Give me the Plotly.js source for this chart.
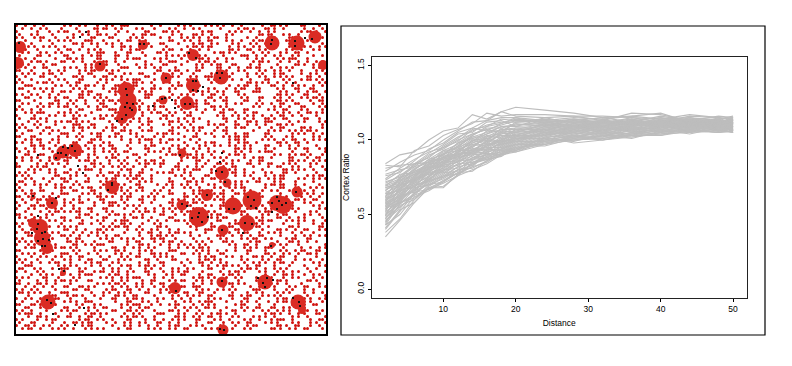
<!DOCTYPE html>
<html><head><meta charset="utf-8">
<script src="https://cdn.plot.ly/plotly-3.0.1.min.js"></script>
<style>html,body{margin:0;padding:0;background:#fff}</style></head>
<body><div id="chart" style="width:792px;height:366px"></div>
<script>
// Right panel: distance values and contrast-ratio curves (hundredths)
const distance=[2,4,6,8,10,12,14,16,18,20,24,28,32,36,40,44,48,50];
const curves=[
[84,90,92,100,106,108,117,114,119,122,120,118,115,116,118,112,114,116],
[83,82,93,96,103,107,111,118,116,117,117,116,113,118,117,113,116,115],
[79,85,90,93,100,106,112,113,119,116,115,116,116,115,114,117,115,114],
[76,78,86,94,98,105,108,113,115,115,113,115,114,116,114,115,113,113],
[73,79,84,88,96,102,106,110,112,112,113,112,113,112,113,114,114,115],
[71,76,83,90,94,100,104,107,110,113,112,114,111,113,115,112,113,112],
[70,74,80,87,93,97,103,108,108,110,112,110,112,114,111,113,112,113],
[69,77,78,84,90,98,101,104,109,109,110,113,110,111,113,111,114,111],
[68,72,81,85,92,95,99,106,106,111,109,111,113,110,112,114,111,112],
[67,70,76,86,88,96,102,102,107,107,111,109,111,112,110,112,112,110],
[66,73,79,82,91,93,98,103,104,108,108,112,109,113,111,110,113,113],
[65,69,74,83,87,94,97,100,106,105,110,108,112,109,113,113,110,111],
[64,71,77,80,89,91,100,101,102,107,107,110,108,111,109,111,112,109],
[63,67,75,84,85,92,95,102,103,103,109,107,110,112,112,109,111,114],
[62,70,72,79,88,90,96,98,104,105,106,111,107,110,110,112,109,110],
[61,65,76,81,83,93,93,99,100,106,105,108,111,108,111,110,113,112],
[60,68,71,78,86,88,97,96,102,102,108,106,109,111,109,108,110,108],
[60,64,73,82,82,91,92,100,98,104,104,109,106,109,112,111,108,111],
[59,66,70,76,84,87,94,95,101,100,107,105,110,107,108,113,111,109],
[58,63,74,77,81,89,90,98,97,103,103,108,105,110,110,109,109,112],
[57,67,68,79,83,85,93,94,100,99,106,104,108,106,111,110,112,107],
[56,62,71,75,85,86,89,97,96,102,102,107,104,109,107,112,108,110],
[55,64,69,74,80,88,91,92,99,98,105,103,109,105,110,108,110,113],
[55,60,72,78,78,84,92,95,95,101,101,106,103,108,108,111,107,108],
[54,61,67,73,82,83,88,93,98,97,104,102,107,106,106,109,111,111],
[53,63,65,76,79,86,87,90,94,100,100,105,102,107,109,107,109,106],
[52,58,70,72,76,82,90,91,97,96,103,101,106,104,108,110,106,109],
[51,60,66,74,80,81,86,94,93,99,99,104,104,108,105,108,110,107],
[50,57,64,71,77,84,85,89,96,95,102,103,101,105,107,106,107,110],
[49,59,68,70,74,80,88,90,92,98,98,102,105,103,109,109,108,105],
[48,55,63,72,78,79,83,92,95,94,101,100,103,106,104,107,105,108],
[47,58,61,69,75,82,84,87,91,97,97,103,100,104,106,105,109,106],
[46,54,65,67,73,78,87,88,94,93,100,99,104,102,105,108,106,107],
[45,56,60,70,76,77,82,91,90,96,96,101,102,105,103,106,107,105],
[43,50,62,66,72,80,81,86,93,92,99,100,101,103,107,104,108,109],
[41,53,58,68,69,76,85,87,89,95,97,102,100,102,104,107,105,106],
[38,47,60,68,68,77,84,88,91,93,98,101,103,103,105,106,105,106],
[35,46,58,68,72,78,79,86,90,92,97,100,101,104,104,105,106,105],
[58,72,77,83,90,95,103,109,111,114,112,113,115,112,116,113,112,114],
[62,75,82,89,95,99,107,109,114,113,114,112,111,115,112,116,115,113],
[52,68,75,86,91,96,102,105,109,110,111,109,113,110,115,111,113,110],
[49,65,73,81,89,93,99,104,107,108,108,110,106,113,108,112,110,112],
[44,61,72,80,86,92,96,101,105,106,110,106,112,107,113,108,113,107],
[72,75,78,82,86,89,94,97,100,104,106,109,108,109,111,110,109,108],
[77,80,82,85,87,90,92,96,99,101,103,106,107,107,106,109,107,109],
[81,83,84,85,88,91,91,94,97,100,105,104,106,110,109,106,110,106],
[68,71,74,77,80,83,88,92,94,97,100,103,102,108,107,110,106,108],
[64,66,69,73,75,80,83,89,92,94,99,102,105,104,110,105,111,105],
[57,62,66,70,72,78,82,85,91,94,101,100,103,101,106,107,109,107],
[54,58,63,67,71,76,80,84,90,93,102,98,100,103,103,108,108,111],
[66,74,84,91,97,104,105,112,113,109,115,111,109,112,110,115,111,115],
[74,81,87,92,95,101,108,106,111,115,110,114,112,111,112,109,115,110],
[59,69,80,87,90,98,104,107,105,112,113,108,114,109,114,114,109,113],
[56,66,79,84,93,94,101,99,108,103,109,113,108,114,109,111,114,108],
[50,62,74,79,84,90,95,103,101,107,106,111,105,112,108,113,108,112],
[47,60,69,78,81,87,92,99,103,101,105,107,110,105,113,107,112,109],
[43,57,67,75,83,85,91,96,100,99,104,105,107,108,105,112,107,111],
[40,52,64,73,79,86,94,93,98,102,103,110,104,109,106,109,113,106],
[61,70,73,81,85,89,98,101,99,105,111,107,113,106,112,106,110,114],
[69,73,77,81,84,92,100,97,105,102,107,105,109,113,107,111,106,112]
];
const xTicks=[10,20,30,40,50];
const yTicks=[0,0.5,1,1.5];
const yTickLabels=["0.0","0.5","1.0","1.5"];
const xTitle="Distance";
const yTitle="Cortex Ratio";

// Left panel: speckle rows (one hex digit = four 3-unit cells)
const speckleRows=[
"9240A5129C0482A1549026A184","24A1083650A21494082D1A4092","8112C49024186A02C1524A0169","4508129A4136091A42806C5214",
"A2C4506182A09154B2048A1C26","1092A1C4265018A4C291603A48","64081A529048C21650A2941C02","0A5482109A64205AC1294816A5",
"D10264A812C0592481A6502914","28A5109C4621A0482D4128A640","4190C25864102A95041C928A12","92046A1845C2A1069284A15C40",
"05A1922648109C45A20168924A","A84C015A2094610A58C2410692","1260A9481C52840A1926C4A815","C4128562A001964C1A2852910A",
"2A5904C18A6249105684A2C129","90C41A2650184A29C10452A864","4412860A95C21068A49218516A","A1684C1209A452184C06A92405",
"1C0529A461820B54012C864A92","62A81504C9269410A258C14630","0849A2C16854102A9461C0A259","A51206984A1C0952642801A8C4",
"1894C62A05189240CA1462915A","C2062915A84105A9260C41A826","289A510C46A204198250A4C612","4152C896014AC2586A01429185",
"A4802619C44A2109258C0A6142","15C2A840612594A20C4981526A","8214950A9C20686014A524C908","46A0182C5148A29406291A60C4",
"09256A81024C1A5082469C1285","A2841C6094285120AC6491A802","513096A2C8440A96125844C1A2","8C4A12049A2C185426010A9568",
"2091C45862816A09424C180A92","C6024A1950A24098256C142814","158A0468125C9A2401682A4C95","A49218C50244A089612C81A640",
"06C4A12984160A45294A189208","925160A4C2185294806A1214C5","4A0896254C0A9108A4525C0841","18C254A0A1902C6A41680295A2",
"A5106892C440815A2A0964184C","2490C5A12896410C84A2601A95","812A4069145AC2091A864C5428","C5608124A910864A24C1098A22",
"0A9425C816240A9C5148206A91","5214C809A26158A042C9146408",
"A80629146AC40521984A12C056","1449A082C5A4109268014AC295","6210C98A4254186A0954C28410","92A51406A8C12948A25016C484",
"4085A2C9126048A4295810C62A","A4C1186054A29016C48A251490","1609C2A84A0518942C6A408152","C852041A962A40C9148560A124",
"25A0948C14620A952C8041A698","9104A625C824195A0426C918A2","46C89021A5408A614C9025A814","8A2514C60892541A08C6942A05",
"1096AC42815A4960A2185C0428","C42805916A20C4A958142960A4","52A18C4609A4182C5604A19282","0894A2145C0926A418506C2A91",
"A5C106489A22805C4169A04212","4192A8056C41A0286594C81A06","2460C91A84A51209C46821A4C5","986A1254084C96A1052C4A8910",
"0C51A4926045A8241C926084A5","A1284C0A9526C4108A15942C60","54906A2184C2590A4682C11A48","8A24195C046892A5014C86A201",
"1645A820C94A1256804A9C4125","C098142A68541C0A924610A58C","2A41C8905246A1948C041A5269","84A5260914C2A8056291A4C408",
"5108A4C62A190C45A8142984A2","A4962158A048C1264A0952C814","1C02A849165A408296A4C21085","6289C504A2148A50C41692A048",
"9140862CA5184AC20968514A21","04A925C1640A2984C5A0126894","A862140A95C24816A2509C4A12","4125A8C09426158A4C2091A068",
"C9A4201568A4C01249A8652104","1248C6A094A2519C04826A14C5","A5041982C648A20A9541C22890","6A91C0452A1894C62084A15092",
"081C5A2469820A54C1962A8041","94A62108C5A14920A88C4162A5","2158A9C0462904A5C2148960A2","C6A40A2815C49612A058420C98",
"1890C4A6125804A9A214C65280","A4215890C6A21A4408C929514A","5C84216A0941C28A5A4016928C","09A264C815A20694C8A1520A41",
"A12C059486124A8C290A45C826","46089AC24A519208C4A6150A29","9A5142C08A49162A0C4581A624","2C8A9154260A94C1528A0694C2"
];
// Dense cluster centres and their diameters, in image units
const clusterX=[20,18,100,143,193,166,221,272,297,315,323,126,128,128,122,163,187,193,75,63,57,182,222,227,112,52,33,40,42,47,33,63,48,175,222,265,298,302,223,182,199,207,233,252,247,223,277,283,297,272];
const clusterY=[47,63,66,45,55,78,77,43,43,37,65,90,100,110,118,100,103,85,150,152,157,153,173,183,187,203,197,227,238,248,223,273,302,288,282,282,302,310,330,205,217,195,206,200,223,230,203,205,192,245];
const clusterD=[12,12,11,10,12,11,15,15,15,13,10,16,17,18,12,9,14,14,14,13,8,9,14,9,14,12,5,16,16,12,10,6,15,12,11,15,15,8,11,11,20,12,17,19,16,11,16,18,11,6];
// Black points
const blackX=[19,140,144,189,196,100,80,86,166,217,222,220,272,271,295,295,305,312,126,127,127,125,130,133,132,126,117,122,162,165,172,153,185,190,175,193,196,193,198,203,63,68,72,58,61,66,75,56,38,78,83,180,222,220,216,222,225,112,293,112,108,33,56,52,38,38,37,42,32,45,43,49,38,42,45,59,64,47,51,53,75,84,182,187,199,198,192,202,208,207,229,234,248,254,251,256,245,252,243,222,277,272,279,282,286,277,272,296,271,222,176,258,267,273,263,265,293,299,300,224,220];
const blackY=[43,44,44,53,58,64,37,32,78,73,73,78,40,44,41,46,38,39,89,95,103,107,108,104,110,115,121,119,99,98,100,106,104,104,108,81,81,90,91,87,147,148,146,153,153,155,151,158,155,166,173,155,153,162,171,172,182,183,83,185,190,196,198,203,216,224,229,233,233,232,239,240,241,246,246,269,271,300,303,314,325,308,204,206,213,217,218,222,217,195,209,209,197,200,206,208,223,224,233,230,197,203,201,205,203,209,212,192,246,281,291,278,278,280,283,287,298,302,306,330,329];

const W=792,H=366;
const px=(a)=>a/W, py=(a)=>1-a/H;

const speckX=[],speckY=[];
speckleRows.forEach((row,r)=>{
  [...row].forEach((ch,n)=>{
    const v=parseInt(ch,16);
    for(let b=0;b<4;b++){
      if(v&(8>>b)){speckX.push(16.5+3*(n*4+b));speckY.push(25.5+3*r);}
    }
  });
});

const traces=[
 {type:'scatter',mode:'markers',x:speckX,y:speckY,xaxis:'x',yaxis:'y',hoverinfo:'skip',
  marker:{symbol:'circle',size:3,opacity:1,color:'#d01410',line:{width:0}}},
 {type:'scatter',mode:'markers',x:clusterX,y:clusterY,xaxis:'x',yaxis:'y',hoverinfo:'skip',
  marker:{symbol:'circle',size:clusterD,opacity:1,color:'#da2c24',line:{width:0}}},
 {type:'scatter',mode:'markers',x:blackX,y:blackY,xaxis:'x',yaxis:'y',hoverinfo:'skip',
  marker:{symbol:'square',size:2,opacity:1,color:'#111111',line:{width:0}}}
];
curves.forEach(c=>traces.push({type:'scatter',mode:'lines',x:distance,y:c.map(v=>v/100),
  xaxis:'x2',yaxis:'y2',hoverinfo:'skip',line:{color:'#bdbdbd',width:1.1}}));

const font={family:'Liberation Sans, Arial, sans-serif',size:8.5,color:'#000'};
const layout={
 width:W,height:H,margin:{l:0,r:0,t:0,b:0},paper_bgcolor:'#fff',plot_bgcolor:'#fff',showlegend:false,font,
 xaxis:{domain:[px(16),px(326)],range:[16,326],showgrid:false,zeroline:false,showticklabels:false,ticks:'',
  showline:true,mirror:true,linecolor:'#000',linewidth:2,anchor:'y'},
 yaxis:{domain:[py(334),py(25)],range:[334,25],showgrid:false,zeroline:false,showticklabels:false,ticks:'',
  showline:true,mirror:true,linecolor:'#000',linewidth:2,anchor:'x'},
 xaxis2:{domain:[px(371.5),px(747)],range:[0.08,51.92],showgrid:false,zeroline:false,anchor:'y2',
  tickmode:'array',tickvals:xTicks,ticktext:xTicks.map(String),ticks:'outside',ticklen:3,tickcolor:'#000',tickfont:font,
  showline:true,mirror:true,linecolor:'#222',linewidth:1,
  title:{text:xTitle,font,standoff:6}},
 yaxis2:{domain:[py(298),py(56.5)],range:[-0.06,1.56],showgrid:false,zeroline:false,anchor:'x2',
  tickmode:'array',tickvals:yTicks,ticktext:yTickLabels,tickangle:-90,ticks:'outside',ticklen:3,tickcolor:'#000',tickfont:font,
  showline:true,mirror:true,linecolor:'#222',linewidth:1,
  title:{text:yTitle,font,standoff:5}},
 shapes:[{type:'rect',xref:'paper',yref:'paper',x0:px(341),x1:px(765),y0:py(335),y1:py(26),
  line:{color:'#000',width:1.2},fillcolor:'rgba(0,0,0,0)',layer:'below'}]
};
Plotly.newPlot('chart',traces,layout,{displayModeBar:false,staticPlot:true});
</script></body></html>
